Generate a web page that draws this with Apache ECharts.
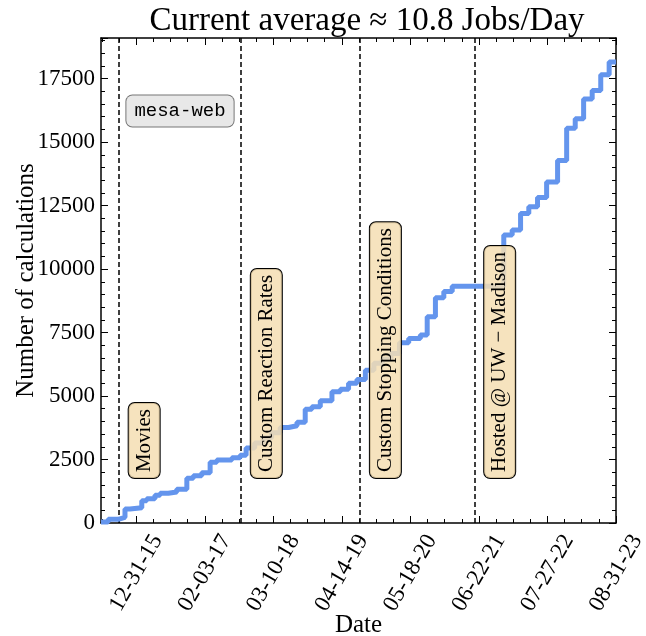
<!DOCTYPE html>
<html><head><meta charset="utf-8">
<script src="https://cdn.jsdelivr.net/npm/echarts@6/dist/echarts.min.js"></script>
<style>html,body{margin:0;padding:0;background:#fff}#c{width:646px;height:636px}</style>
</head><body><div id="c"></div>
<script>
// ---- data ----
const stepDates = ['2015-06-08','2015-07-20','2015-09-17','2015-10-26','2015-11-24','2016-02-01','2016-03-01','2016-04-18','2016-05-18','2016-07-05','2016-08-23','2016-10-21','2016-11-28','2017-01-16','2017-03-06','2017-04-14','2017-07-11','2017-08-28','2017-10-02','2017-11-21','2018-01-10','2018-02-28','2018-04-19','2018-06-07','2018-07-26','2018-09-12','2018-10-21','2018-12-09','2019-02-15','2019-04-05','2019-05-23','2019-07-11','2019-08-29','2019-10-18','2019-12-06','2020-01-25','2020-03-15','2020-05-08','2020-07-15','2020-08-24','2020-10-11','2020-11-29','2021-01-17','2021-11-14','2022-01-02','2022-02-20','2022-04-09','2022-05-30','2022-07-22','2022-09-24','2022-11-16','2023-01-05','2023-02-23','2023-04-14','2023-06-03','2023-07-22','2023-08-31'];
const stepValues = [40,146,224,551,602,878,957,1090,1169,1220,1327,1760,1862,1980,2390,2480,2571,2665,2950,3150,3350,3550,3760,3831,3964,4476,4580,4815,5170,5263,5500,5650,6020,6290,6450,6680,7100,7270,7400,8122,8870,9120,9320,11339,11535,12193,12455,12823,13430,14280,15550,15920,16700,17030,17650,18150,18150];
const tickDates = ['2015-12-31','2017-02-03','2018-03-10','2019-04-14','2020-05-18','2021-06-22','2022-07-27','2023-08-31'];
const tickLabels = ['12-31-15','02-03-17','03-10-18','04-14-19','05-18-20','06-22-21','07-27-22','08-31-23'];
const eventDates = ['2015-09-21','2017-09-03','2019-07-30','2021-05-27'];
const eventLabels = ['Movies','Custom Reaction Rates','Custom Stopping Conditions','Hosted @ UW \u2212 Madison'];
const axisStart = '2015-06-08', axisEnd = '2023-08-31';
const yMax = 19100, yStep = 2500;
const titleText = 'Current average \u2248 10.8 Jobs/Day';

// ---- build ----
const DAY = 86400000;
const xMin = Date.parse(axisStart), xMax = Date.parse(axisEnd);
const majorTicks = tickDates.map(d => Date.parse(d));
const minorTicks = [];
for (let k = -2; k <= 28; k++) {
  if (k % 4 === 0) continue;
  const t = majorTicks[0] + k * 100 * DAY;
  if (t > xMin && t < xMax) minorTicks.push(t);
}
const lineData = stepDates.map((d, i) => [Date.parse(d), stepValues[i]]);
const SERIF = '"Liberation Serif", "Times New Roman", serif';

function xAx(pos, ticks, len, showLine, labels) {
  return {
    type: 'value', position: pos, min: xMin, max: xMax, scale: true,
    axisLine: {show: showLine, onZero: false, lineStyle: {color: '#000', width: 1.5}},
    axisTick: {show: true, inside: true, length: len, customValues: ticks, lineStyle: {color: '#000', width: 1}},
    axisLabel: labels ? {
      show: true, customValues: majorTicks, rotate: 60, align: 'center', verticalAlign: 'middle', margin: 50,
      color: '#000', fontFamily: SERIF, fontSize: 23,
      formatter: v => { const i = majorTicks.indexOf(v); return i >= 0 ? tickLabels[i] : ''; }
    } : {show: false},
    splitLine: {show: false},
    name: labels ? 'Date' : '', nameLocation: 'middle', nameGap: 90, nameMoveOverlap: false,
    nameTextStyle: {color: '#000', fontFamily: SERIF, fontSize: 25}
  };
}
function yAx(pos, labels) {
  return {
    type: 'value', position: pos, min: 0, max: yMax, interval: yStep,
    axisLine: {show: true, onZero: false, lineStyle: {color: '#000', width: 1.5}},
    axisTick: {show: true, inside: true, length: 7, lineStyle: {color: '#000', width: 1}},
    minorTick: {show: true, splitNumber: 5, length: 4, lineStyle: {color: '#000', width: 1}},
    axisLabel: labels ? {show: true, showMaxLabel: false, margin: 6, color: '#000', fontFamily: SERIF, fontSize: 23,
      formatter: v => String(v)} : {show: false},
    splitLine: {show: false}, minorSplitLine: {show: false},
    name: labels ? 'Number of calculations' : '', nameLocation: 'middle', nameGap: 62, nameMoveOverlap: false,
    nameTextStyle: {color: '#000', fontFamily: SERIF, fontSize: 25}
  };
}

const option = {
  animation: false,
  backgroundColor: '#fff',
  title: {text: titleText, left: 362, top: 0, textAlign: 'center',
    textStyle: {color: '#000', fontFamily: SERIF, fontSize: 33, fontWeight: 'normal'}},
  grid: {left: 101, right: 30, top: 38, bottom: 113, containLabel: false, outerBoundsMode: 'none'},
  xAxis: [xAx('bottom', majorTicks, 7, true, true), xAx('bottom', minorTicks, 4, false, false),
          xAx('top', majorTicks, 7, true, false), xAx('top', minorTicks, 4, false, false)],
  yAxis: [yAx('left', true), yAx('right', false)],
  series: [{
    type: 'line', step: 'end', xAxisIndex: 0, yAxisIndex: 0, symbol: 'none', showSymbol: false,
    data: lineData, lineStyle: {color: '#6495ED', width: 5}, itemStyle: {color: '#6495ED'},
    emphasis: {disabled: true}, z: 3,
    markLine: {silent: true, symbol: ['none', 'none'], label: {show: false}, z: 2,
      lineStyle: {type: [5, 3], color: '#000', width: 1.5},
      data: eventDates.map(d => ({xAxis: Date.parse(d)}))}
  }]
};

const chart = echarts.init(document.getElementById('c'), null, {renderer: 'canvas'});
chart.setOption(option);

const labelOffsetDays = 147, labelBaseValue = 1770;
const graphics = eventDates.map((d, i) => {
  const p = chart.convertToPixel({xAxisIndex: 0, yAxisIndex: 0}, [Date.parse(d) + labelOffsetDays * DAY, labelBaseValue]);
  return {type: 'text', x: p[0], y: p[1], rotation: Math.PI / 2, z: 100,
    style: {text: eventLabels[i], fontFamily: SERIF, fontSize: 21, fill: '#000', align: 'left', verticalAlign: 'middle',
      backgroundColor: 'rgba(245,222,179,0.85)', borderColor: '#000', borderWidth: 1, borderRadius: 6, padding: [5, 6, 5, 6]}};
});
graphics.push({type: 'text', x: 180, y: 111, z: 100,
  style: {text: 'mesa-web', fontFamily: '"Liberation Mono", "DejaVu Sans Mono", monospace', fontSize: 19, fill: '#000',
    align: 'center', verticalAlign: 'middle', backgroundColor: '#e8e8e8', borderColor: '#777', borderWidth: 1,
    borderRadius: 6, padding: [6, 8, 6, 8]}});
chart.setOption({graphic: graphics});
</script></body></html>
